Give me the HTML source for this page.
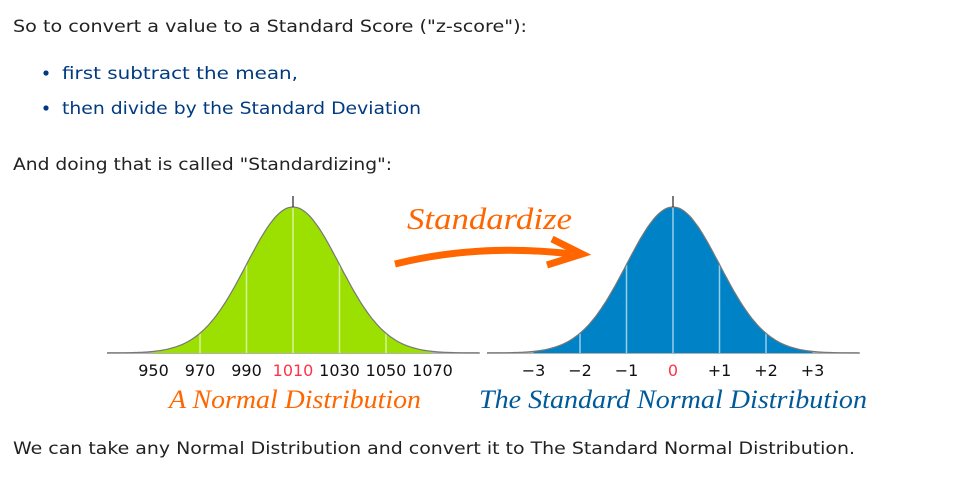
<!DOCTYPE html>
<html><head><meta charset="utf-8"><style>
html,body{margin:0;padding:0;background:#fff;width:955px;height:478px;overflow:hidden}
.b{font-family:"DejaVu Sans","Liberation Sans",sans-serif;font-size:17px;fill:#222}
.u{fill:#003a80}
.t{font-family:"DejaVu Sans","Liberation Sans",sans-serif;font-size:16px;fill:#111}
.s{font-family:"Liberation Serif",serif;font-style:italic}
</style></head><body>
<svg id="svg" width="955" height="478" xmlns="http://www.w3.org/2000/svg">
<text class="b" x="13" y="32" textLength="514" lengthAdjust="spacingAndGlyphs">So to convert a value to a Standard Score ("z-score"):</text>
<circle cx="46" cy="73" r="2.6" fill="#003a80"/>
<text class="b u" x="62" y="79" textLength="236" lengthAdjust="spacingAndGlyphs">first subtract the mean,</text>
<circle cx="46" cy="108" r="2.6" fill="#003a80"/>
<text class="b u" x="62" y="114" textLength="359" lengthAdjust="spacingAndGlyphs">then divide by the Standard Deviation</text>
<text class="b" x="13" y="170" textLength="379" lengthAdjust="spacingAndGlyphs">And doing that is called "Standardizing":</text>
<text class="b" x="13" y="454" textLength="842" lengthAdjust="spacingAndGlyphs">We can take any Normal Distribution and convert it to The Standard Normal Distribution.</text>
<g id="left"></g>
<g id="right"></g>
<text class="s" x="407" y="229" font-size="31" fill="#ff6600" textLength="165" lengthAdjust="spacingAndGlyphs">Standardize</text>
<path d="M395,264 Q480,243 572,254" stroke="#ff6600" stroke-width="7" fill="none"/>
<path d="M552,239 L582,254 L547,265" stroke="#ff6600" stroke-width="7" fill="none" stroke-linejoin="miter"/>
<text class="s" x="295" y="408" font-size="26" fill="#ff6600" text-anchor="middle" textLength="252" lengthAdjust="spacingAndGlyphs">A Normal Distribution</text>
<text class="s" x="673" y="408" font-size="26" fill="#005a9a" text-anchor="middle" textLength="388" lengthAdjust="spacingAndGlyphs">The Standard Normal Distribution</text>
</svg>
<script>
const leftTicks=["950","970","990","1010","1030","1050","1070"];
const rightTicks=["\u22123","\u22122","\u22121","0","+1","+2","+3"];
const sigmas=[-3,-2,-1,0,1,2,3];
const mean=1010, sd=20;
const NS="http://www.w3.org/2000/svg";
function draw(g,cx,axisL,axisR,fill,ticks,xVal){
  const base=353, peak=146, s=46.5;
  const xs=z=>cx+z*s, ys=z=>base-peak*Math.exp(-z*z/2);
  let line="",area="M"+xs(-3)+","+base;
  for(let z=-4.0;z<=4.0001;z+=0.05){line+=(line?"L":"M")+xs(z).toFixed(1)+","+ys(z).toFixed(1);}
  for(let z=-3;z<=3.0001;z+=0.05){area+="L"+xs(z).toFixed(1)+","+ys(z).toFixed(1);}
  area+="L"+xs(3)+","+base+"Z";
  const ax=document.createElementNS(NS,"line");
  ax.setAttribute("x1",axisL);ax.setAttribute("x2",axisR);ax.setAttribute("y1",base);ax.setAttribute("y2",base);
  ax.setAttribute("stroke","#999");ax.setAttribute("stroke-width","1.5");
  
  
  g.appendChild(ax);
  const a=document.createElementNS(NS,"path");a.setAttribute("d",area);a.setAttribute("fill",fill);
  
  
  g.appendChild(a);
  sigmas.forEach(z=>{if(Math.abs(z)>2)return;
    const l=document.createElementNS(NS,"line");
    l.setAttribute("x1",xs(z));l.setAttribute("x2",xs(z));l.setAttribute("y1",base);l.setAttribute("y2",ys(z));
    l.setAttribute("stroke","rgba(255,255,255,0.6)");l.setAttribute("stroke-width","1.5");
    
    
    g.appendChild(l);});
  const c=document.createElementNS(NS,"path");c.setAttribute("d",line);c.setAttribute("fill","none");
  c.setAttribute("stroke","#777");c.setAttribute("stroke-width","1.2");
  
  
  g.appendChild(c);
  const tk=document.createElementNS(NS,"line");
  tk.setAttribute("x1",cx);tk.setAttribute("x2",cx);tk.setAttribute("y1",196);tk.setAttribute("y2",207);
  tk.setAttribute("stroke","#222");tk.setAttribute("stroke-width","1.2");
  
  
  g.appendChild(tk);
  ticks.forEach((t,i)=>{
    const tx=document.createElementNS(NS,"text");
    tx.setAttribute("x",xs(xVal(i)));tx.setAttribute("y",376);tx.setAttribute("text-anchor","middle");
    tx.setAttribute("class","t");
    if(sigmas[i]===0){tx.style.fill="#ff3344";}
    tx.textContent=t;
    
    
    g.appendChild(tx);});
}
draw(document.getElementById("left"),293,107,480,"#9be000",leftTicks,i=>(parseFloat(leftTicks[i])-mean)/sd);
draw(document.getElementById("right"),673,487,860,"#0083c6",rightTicks,i=>sigmas[i]);
</script>
</body></html>
